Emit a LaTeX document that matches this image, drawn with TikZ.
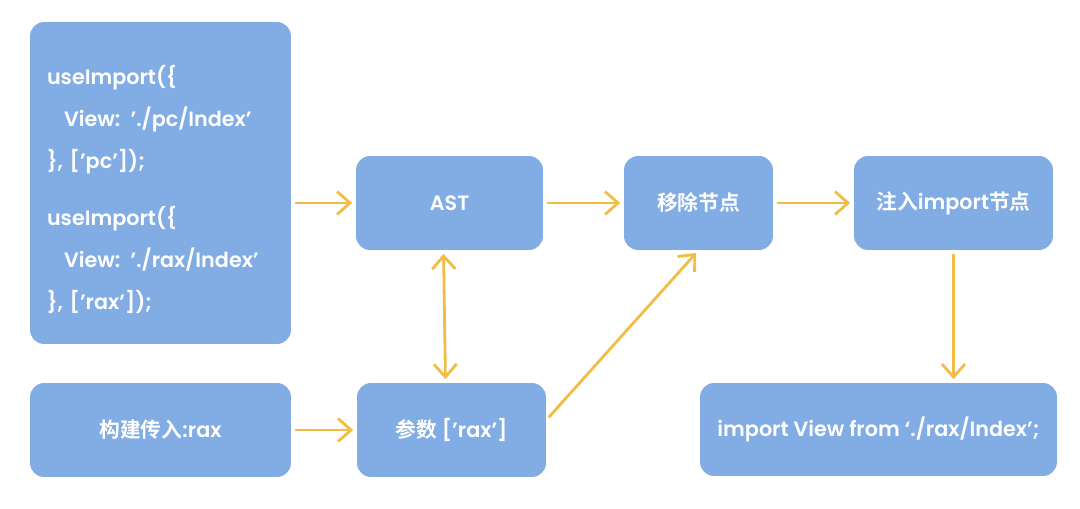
\documentclass[tikz,border=0pt]{standalone}
\usepackage{fontspec}
\setmainfont{Poppins}[BoldFont={Poppins SemiBold}]
\newfontfamily\cjk{Noto Sans CJK SC}[BoldFont={Noto Sans CJK SC Bold}]
\usetikzlibrary{arrows.meta, positioning}
\definecolor{boxblue}{RGB}{130,172,228}
\definecolor{arrowgold}{RGB}{241,189,69}
\tikzstyle{block} = [rectangle, rounded corners=0.28cm, fill=boxblue, text=white, font=\fontsize{11.8}{24}\selectfont\bfseries, align=center]
\tikzstyle{arrow} = [line width=1.6pt, draw=arrowgold, -{Straight Barb[length=2.6mm, width=4.6mm, line width=1.6pt]}, shorten <=2pt, shorten >=2pt]
\tikzstyle{arrow both} = [arrow, {Straight Barb[length=2.6mm, width=4.6mm, line width=1.6pt]}-{Straight Barb[length=2.6mm, width=4.6mm, line width=1.6pt]}]

\begin{document}
\begin{tikzpicture}[x=0.02cm, y=-0.02cm]
    \useasboundingbox (0,0) rectangle (1080,508);

    \node (code)   [block, minimum width=5.22cm, minimum height=6.44cm, text width=4.54cm, align=left] at (160.5,183)
        {\\[-0.2cm]useImport(\{\\\hspace*{0.34cm}View: './pc/Index'\\\}, ['pc']);\\[0.3cm]useImport(\{\\\hspace*{0.34cm}View: './rax/Index'\\\}, ['rax']);};
    \node (ast)    [block, minimum width=3.74cm, minimum height=1.88cm] at (449.5,203) {AST};
    \node (remove) [block, minimum width=2.98cm, minimum height=1.88cm] at (698.5,203) {\cjk 移除节点};
    \node (inject) [block, minimum width=3.98cm, minimum height=1.88cm] at (953.5,203) {{\cjk 注入}import{\cjk 节点}};
    \node (build)  [block, minimum width=5.22cm, minimum height=1.88cm] at (160.5,430) {{\cjk 构建传入}:rax};
    \node (param)  [block, minimum width=3.78cm, minimum height=1.88cm] at (451.5,430) {{\cjk 参数} ['rax']};
    \node (result) [block, minimum width=7.14cm, minimum height=1.86cm] at (878.5,429.5) {import View from `./rax/Index';};

    \draw [arrow] (code.east |- ast.west) -- (ast.west);
    \draw [arrow] (ast) -- (remove);
    \draw [arrow] (remove) -- (inject);
    \draw [arrow] (inject.south) -- (inject.south |- result.north);
    \draw [arrow] (build) -- (param);
    \draw [arrow both] ([xshift=-0.12cm]ast.south) -- ([xshift=-0.12cm]param.north);
    \draw [arrow] ([yshift=0.2cm]param.east) -- (remove.south);
\end{tikzpicture}
\end{document}
